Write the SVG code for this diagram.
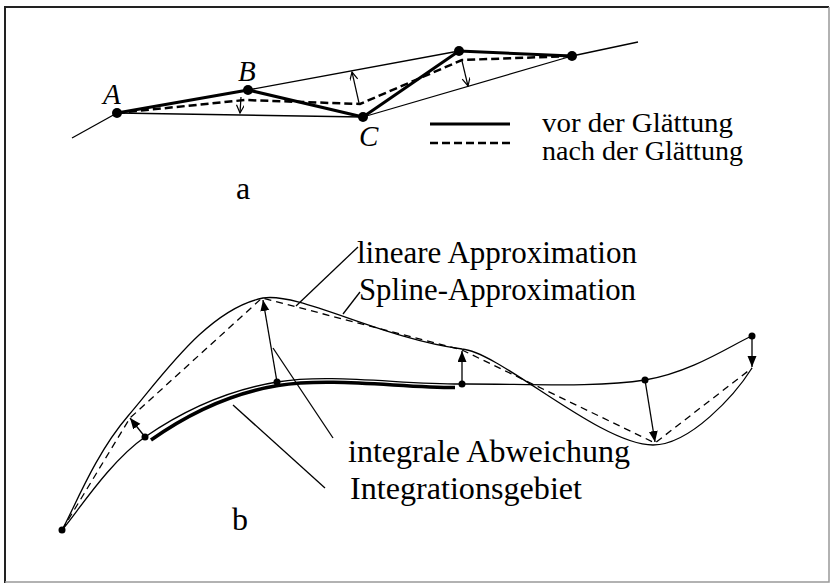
<svg xmlns="http://www.w3.org/2000/svg" width="833" height="588" viewBox="0 0 833 588">
<defs>
<marker id="openHead" markerWidth="10" markerHeight="10" refX="9" refY="4" orient="auto" markerUnits="userSpaceOnUse"><path d="M1,0 L9,4 L1,8" fill="none" stroke="#000" stroke-width="1.2"/></marker>
<marker id="solidHead" markerWidth="12" markerHeight="10" refX="11" refY="4.5" orient="auto" markerUnits="userSpaceOnUse"><path d="M0,0 L11,4.5 L0,9 Z" fill="#000"/></marker>
</defs>
<style>
.thin{fill:none;stroke:#000;stroke-width:1.3}
.bold{fill:none;stroke:#000;stroke-width:3;stroke-linejoin:round}
.dash{fill:none;stroke:#000;stroke-width:2.5;stroke-dasharray:8 4}
.dashb{fill:none;stroke:#000;stroke-width:1.3;stroke-dasharray:7 5}
.t{font-family:"Liberation Serif","Times New Roman",serif;fill:#000}
.it{font-style:italic;font-size:29px}
.lg{font-size:28px}
.lb{font-size:31px}
.arA{fill:none;stroke:#000;stroke-width:1.2;marker-end:url(#openHead)}
.arB{fill:none;stroke:#000;stroke-width:1.3;marker-end:url(#solidHead)}
</style>
<rect width="833" height="588" fill="#fff"/>
<g id="frame">
<path d="M5,583 L5,7 L829,7" fill="none" stroke="#222" stroke-width="2"/>
<path d="M829,7 L829,582 L5,582" fill="none" stroke="#999" stroke-width="1.5"/>
</g>

<g id="part-a">
<g id="connectors-a">
<path class="thin" d="M72,138 L117,113"/>
<path class="thin" d="M117,113 L363,117"/>
<path class="thin" d="M248,90 L459,51"/>
<path class="thin" d="M363,117 L572,56"/>
<path class="thin" d="M572,56 L638,42"/>
<path class="bold" d="M117,113 L248,90 L363,117 L459,51 L572,56"/>
<path class="dash" d="M117,113 L245,100 L360,104 L462,60 L572,56"/>
<path class="arA" d="M241,97 L240,113"/>
<path class="arA" d="M359,103 L352,72"/>
<path class="arA" d="M462,61 L468,86"/>
</g>
<g id="node-A"><circle cx="117" cy="113" r="5"/><text class="t it" x="103" y="104">A</text></g>
<g id="node-B"><circle cx="248" cy="90" r="5"/><text class="t it" x="238" y="81">B</text></g>
<g id="node-C"><circle cx="363" cy="117" r="5"/><text class="t it" x="359" y="146">C</text></g>
<g id="node-D"><circle cx="459" cy="51" r="5"/></g>
<g id="node-E"><circle cx="572" cy="56" r="5"/></g>
<g id="legend">
<path d="M430,124 L510,124" fill="none" stroke="#000" stroke-width="3"/>
<path d="M430,143 L511,143" class="dash"/>
<text class="t lg" x="542" y="132" textLength="191" lengthAdjust="spacingAndGlyphs">vor der Glättung</text>
<text class="t lg" x="542" y="160" textLength="201" lengthAdjust="spacingAndGlyphs">nach der Glättung</text>
</g>
<text class="t" x="236" y="199" font-size="32">a</text>
</g>

<g id="part-b">
<g id="connectors-b">
<path id="band" d="M151,440 C185,416 226,394 278,385.5 C330,377 400,387.5 455,387.5" fill="none" stroke="#000" stroke-width="3.5"/>
<path id="original" class="thin" d="M62,530 C75.8,514.5 109.2,461.7 145,437 C180.8,412.3 224.2,390.8 277,382 C329.8,373.2 400.7,384.3 462,384 C523.3,383.7 596.7,388 645,380 C693.3,372 734.2,343.3 752,336"/>
<path id="spline" class="thin" d="M62,530 C73,511 94.5,454.7 128,416 C161.5,377.3 207.3,309.2 263,298 C300,292 380,338 462,349 C500,352 600,445 653,445 C690,445 735,395 752,368"/>
<path id="linear" class="dashb" d="M62,530 L130,418 L262,298 L462,350 L655,443 L752,368"/>
<path class="arB" d="M145,437 L130,418"/>
<path class="arB" d="M277,382 L263,300"/>
<path class="arB" d="M462,384 L462,351"/>
<path class="arB" d="M645,380 L655,442"/>
<path class="arB" d="M752,336 L752,367"/>
<path class="thin" d="M358,247 L296,306"/>
<path class="thin" d="M360,292 L343,314"/>
<path class="thin" d="M333,438 L273,348"/>
<path class="thin" d="M325,488 L233,405"/>
</g>
<g id="dots-b">
<circle cx="62" cy="530" r="3.5"/>
<circle cx="145" cy="437" r="3.5"/>
<circle cx="277" cy="382" r="3.5"/>
<circle cx="462" cy="384" r="3.5"/>
<circle cx="645" cy="380" r="3.5"/>
<circle cx="752" cy="336" r="3.5"/>
</g>
<g id="labels-b">
<text class="t lb" x="357" y="263" textLength="280" lengthAdjust="spacingAndGlyphs">lineare Approximation</text>
<text class="t lb" x="359" y="300" textLength="277" lengthAdjust="spacingAndGlyphs">Spline-Approximation</text>
<text class="t lb" x="348" y="462" textLength="282" lengthAdjust="spacingAndGlyphs">integrale Abweichung</text>
<text class="t lb" x="350" y="499" textLength="232" lengthAdjust="spacingAndGlyphs">Integrationsgebiet</text>
</g>
<text class="t" x="232" y="530" font-size="32">b</text>
</g>
</svg>
